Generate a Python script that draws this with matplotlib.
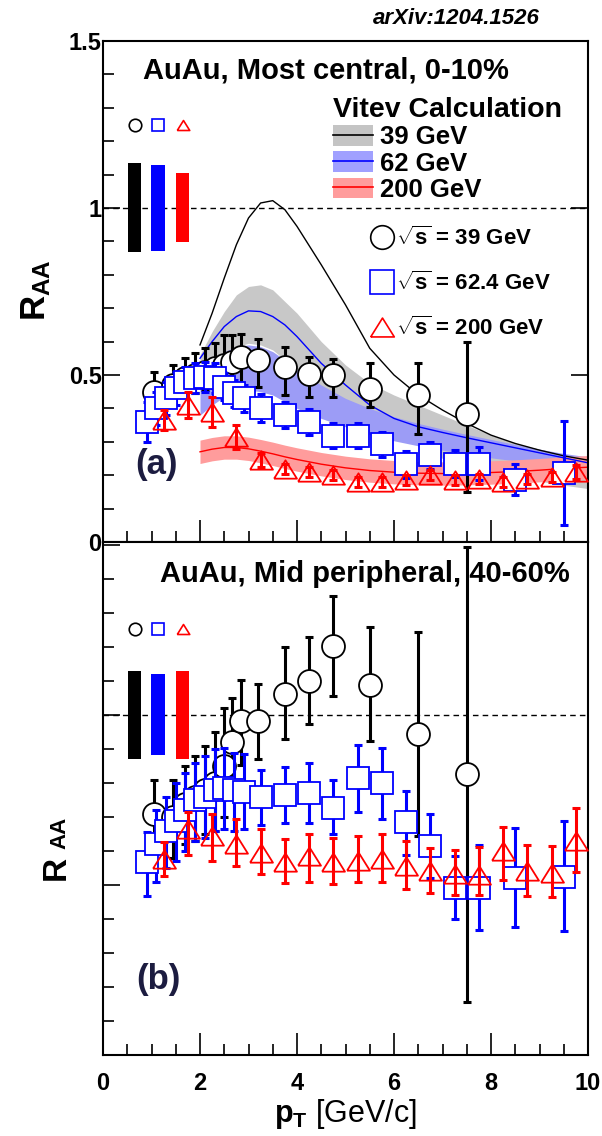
import matplotlib
matplotlib.use('Agg')
import matplotlib.pyplot as plt
from matplotlib.patches import Patch
from matplotlib.lines import Line2D
from matplotlib.ticker import MultipleLocator

plt.rcParams['font.family'] = ['Liberation Sans', 'DejaVu Sans']
plt.rcParams['font.weight'] = 'bold'
plt.rcParams['mathtext.fontset'] = 'custom'
plt.rcParams['mathtext.rm'] = 'Liberation Sans:bold'
plt.rcParams['mathtext.it'] = 'Liberation Sans:bold'
plt.rcParams['mathtext.bf'] = 'Liberation Sans:bold'

# --- Vitev calculation (central panel only) ---
calc_pt = [2.0, 2.25, 2.5, 2.75, 3.0, 3.25, 3.5, 3.75, 4.0, 4.5, 5.0, 5.5,
           6.0, 6.5, 7.0, 7.5, 8.0, 8.5, 9.0, 9.5, 10.0]
calc39 = [0.59, 0.685, 0.79, 0.89, 0.97, 1.015, 1.022, 0.995, 0.945, 0.83, 0.71, 0.58,
          0.50, 0.44, 0.395, 0.355, 0.32, 0.295, 0.275, 0.258, 0.245]
calc39_hi = [0.56, 0.63, 0.69, 0.74, 0.765, 0.77, 0.755, 0.72, 0.685, 0.60, 0.53, 0.475,
             0.44, 0.41, 0.38, 0.35, 0.32, 0.295, 0.278, 0.262, 0.25]
calc39_lo = [0.48, 0.53, 0.565, 0.585, 0.595, 0.59, 0.575, 0.545, 0.51, 0.45, 0.40, 0.36,
             0.33, 0.30, 0.25, 0.228, 0.212, 0.197, 0.182, 0.17, 0.16]
calc62 = [0.55, 0.60, 0.645, 0.675, 0.692, 0.69, 0.675, 0.65, 0.615, 0.535, 0.47, 0.41,
          0.37, 0.345, 0.328, 0.312, 0.297, 0.282, 0.267, 0.252, 0.237]
calc62_hi = [0.50, 0.54, 0.57, 0.585, 0.59, 0.585, 0.57, 0.545, 0.515, 0.47, 0.43, 0.40,
             0.375, 0.355, 0.338, 0.322, 0.307, 0.292, 0.278, 0.265, 0.255]
calc62_lo = [0.38, 0.41, 0.435, 0.45, 0.455, 0.45, 0.44, 0.42, 0.40, 0.37, 0.345, 0.322,
             0.303, 0.288, 0.275, 0.263, 0.252, 0.243, 0.235, 0.228, 0.222]
calc200 = [0.27, 0.278, 0.283, 0.283, 0.279, 0.272, 0.264, 0.255, 0.247, 0.233, 0.222, 0.214,
           0.209, 0.206, 0.205, 0.206, 0.208, 0.211, 0.215, 0.22, 0.224]
calc200_hi = [0.305, 0.313, 0.318, 0.318, 0.314, 0.307, 0.299, 0.29, 0.282, 0.268, 0.257, 0.249,
              0.244, 0.241, 0.24, 0.241, 0.243, 0.246, 0.25, 0.255, 0.259]
calc200_lo = [0.235, 0.243, 0.248, 0.248, 0.244, 0.237, 0.229, 0.22, 0.212, 0.198, 0.187, 0.179,
              0.174, 0.171, 0.17, 0.171, 0.173, 0.176, 0.18, 0.185, 0.189]

# --- sqrt(s) = 39 GeV ---
pt39 = [1.05, 1.45, 1.7, 1.9, 2.1, 2.3, 2.5, 2.65, 2.85, 3.2, 3.75, 4.25, 4.75, 5.5, 6.5, 7.5]
raa39_c = [0.45, 0.47, 0.49, 0.50, 0.51, 0.52, 0.53, 0.54, 0.554, 0.544, 0.524, 0.504, 0.499,
           0.459, 0.439, 0.384]
up39_c = [0.06, 0.06, 0.06, 0.065, 0.07, 0.075, 0.09, 0.08, 0.07, 0.065, 0.06, 0.05, 0.05,
          0.076, 0.096, 0.216]
dn39_c = [0.05, 0.05, 0.05, 0.055, 0.055, 0.06, 0.06, 0.07, 0.08, 0.08, 0.085, 0.07, 0.065,
          0.055, 0.115, 0.234]
raa39_p = [0.71, 0.70, 0.74, 0.76, 0.78, 0.80, 0.85, 0.92, 0.983, 0.983, 1.062, 1.10, 1.204,
           1.09, 0.944, 0.826]
up39_p = [0.10, 0.11, 0.11, 0.12, 0.13, 0.15, 0.17, 0.13, 0.12, 0.11, 0.14, 0.13, 0.146,
          0.17, 0.30, 0.67]
dn39_p = [0.11, 0.12, 0.12, 0.13, 0.13, 0.14, 0.15, 0.14, 0.13, 0.113, 0.132, 0.126, 0.147,
          0.166, 0.30, 0.67]

# --- sqrt(s) = 62.4 GeV ---
pt62 = [0.9, 1.1, 1.3, 1.5, 1.7, 1.9, 2.1, 2.3, 2.5, 2.7, 2.9, 3.25, 3.75, 4.25, 4.75,
        5.25, 5.75, 6.25, 6.75, 7.25, 7.75, 8.5, 9.5]
raa62_c = [0.36, 0.40, 0.43, 0.46, 0.48, 0.49, 0.495, 0.49, 0.465, 0.445, 0.43, 0.40, 0.38,
           0.359, 0.318, 0.318, 0.292, 0.233, 0.26, 0.235, 0.235, 0.187, 0.207]
err62_c = [0.06, 0.05, 0.05, 0.05, 0.045, 0.045, 0.045, 0.045, 0.04, 0.04, 0.04, 0.042, 0.04,
           0.04, 0.038, 0.038, 0.038, 0.04, 0.04, 0.04, 0.048, 0.046, 0.155]
raa62_p = [0.567, 0.62, 0.66, 0.69, 0.72, 0.75, 0.76, 0.78, 0.785, 0.78, 0.775, 0.758, 0.765,
           0.77, 0.726, 0.814, 0.80, 0.686, 0.614, 0.493, 0.493, 0.52, 0.525]
up62_p = [0.09, 0.10, 0.10, 0.11, 0.11, 0.11, 0.12, 0.12, 0.12, 0.11, 0.11, 0.08, 0.082,
          0.089, 0.084, 0.098, 0.105, 0.091, 0.095, 0.093, 0.125, 0.147, 0.164]
dn62_p = [0.10, 0.11, 0.11, 0.12, 0.12, 0.12, 0.12, 0.12, 0.12, 0.12, 0.11, 0.08, 0.083,
          0.088, 0.076, 0.10, 0.106, 0.096, 0.094, 0.093, 0.125, 0.142, 0.16]

# --- sqrt(s) = 200 GeV ---
pt200 = [1.25, 1.75, 2.25, 2.75, 3.25, 3.75, 4.25, 4.75, 5.25, 5.75, 6.25, 6.75, 7.25,
         7.75, 8.25, 8.75, 9.25, 9.75]
raa200_c = [0.364, 0.41, 0.389, 0.314, 0.245, 0.22, 0.21, 0.2, 0.18, 0.18, 0.185, 0.2, 0.185,
            0.19, 0.18, 0.19, 0.195, 0.21]
err200_c = [0.03, 0.04, 0.045, 0.037, 0.02, 0.015, 0.015, 0.015, 0.015, 0.015, 0.015, 0.015,
            0.015, 0.015, 0.015, 0.015, 0.015, 0.02]
raa200_p = [0.576, 0.665, 0.645, 0.62, 0.596, 0.568, 0.586, 0.567, 0.571, 0.576, 0.557, 0.542,
            0.532, 0.53, 0.60, 0.542, 0.537, 0.63]
up200_p = [0.05, 0.05, 0.064, 0.074, 0.069, 0.067, 0.064, 0.073, 0.074, 0.074, 0.073, 0.066,
           0.071, 0.081, 0.072, 0.076, 0.077, 0.096]
dn200_p = [0.05, 0.075, 0.074, 0.063, 0.064, 0.062, 0.076, 0.064, 0.063, 0.068, 0.067, 0.064,
           0.062, 0.06, 0.084, 0.074, 0.073, 0.091]

# normalisation uncertainty boxes near R_AA = 1
norm_x = [0.65, 1.13, 1.64]
norm_lo_c = [0.867, 0.871, 0.898]
norm_hi_c = [1.135, 1.130, 1.105]
norm_lo_p = [0.871, 0.882, 0.870]
norm_hi_p = [1.130, 1.120, 1.130]
norm_sym_y = [1.25, 1.255]

colors = ['black', '#0000ff', '#ff0000']
markers = ['o', 's', [(-1, -0.8), (1, -0.8), (0, 0.8), (-1, -0.8)]]
faces = ['white', 'white', 'none']

fig = plt.figure(figsize=(6.02, 11.36), dpi=100)
ax1 = fig.add_axes([103 / 602, 1 - 542 / 1136, 485 / 602, 501 / 1136])
ax2 = fig.add_axes([103 / 602, 1 - 1055 / 1136, 485 / 602, 513 / 1136])

# bands + curves
ax1.fill_between(calc_pt, calc39_lo, calc39_hi, color='#c8c8c8', lw=0, zorder=1)
ax1.fill_between(calc_pt, calc62_lo, calc62_hi, color='#9c9cf6', lw=0, zorder=1.1)
ax1.fill_between(calc_pt, calc200_lo, calc200_hi, color='#ff9c9c', lw=0, zorder=1.2)
ax1.plot(calc_pt, calc39, color='black', lw=1.0, zorder=1.5)
ax1.plot(calc_pt, calc62, color='#0000ff', lw=1.0, zorder=1.5)
ax1.plot(calc_pt, calc200, color='#ff0000', lw=1.0, zorder=1.5)

series_c = [(pt39, raa39_c, [dn39_c, up39_c]),
            (pt62, raa62_c, [err62_c, err62_c]),
            (pt200, raa200_c, [err200_c, err200_c])]
series_p = [(pt39, raa39_p, [dn39_p, up39_p]),
            (pt62, raa62_p, [dn62_p, up62_p]),
            (pt200, raa200_p, [dn200_p, up200_p])]

for ax, series, nlo, nhi, sy in [(ax1, series_c, norm_lo_c, norm_hi_c, norm_sym_y[0]),
                                 (ax2, series_p, norm_lo_p, norm_hi_p, norm_sym_y[1])]:
    ax.axhline(1.0, color='black', lw=1.0, ls=(0, (4, 3)), zorder=1)
    for i, (x, y, err) in enumerate(series):
        ax.errorbar(x, y, yerr=err, fmt='none', ecolor=colors[i], elinewidth=2.2,
                    capsize=3, capthick=2.2, zorder=3 + i)
        ax.plot(x, y, ls='none', marker=markers[i], ms=16.5, mfc=faces[i],
                mec=colors[i], mew=1.3, zorder=3.5 + i)
    ax.bar(norm_x, [h - l for h, l in zip(nhi, nlo)], bottom=nlo, width=0.28,
           color=colors, zorder=2)
    for i in range(3):
        ax.plot(norm_x[i], sy, ls='none', marker=markers[i], ms=9, mfc='white',
                mec=colors[i], mew=1.2, zorder=2)

for ax in (ax1, ax2):
    ax.set_xlim(0, 10)
    ax.xaxis.set_major_locator(MultipleLocator(2))
    ax.xaxis.set_minor_locator(MultipleLocator(0.5))
    ax.yaxis.set_major_locator(MultipleLocator(0.5))
    ax.yaxis.set_minor_locator(MultipleLocator(0.1))
    ax.tick_params(which='both', direction='in', width=1.2)
    ax.tick_params(which='major', length=16)
    ax.tick_params(which='minor', length=8)
    ax.tick_params(axis='y', which='major', length=12)
    for s in ax.spines.values():
        s.set_linewidth(1.5)

ax1.set_ylim(0, 1.5)
ax2.set_ylim(0, 1.51)
ax1.tick_params(axis='y', right=True, labelsize=17, pad=1)
ax1.tick_params(axis='x', labelbottom=False)
ax2.tick_params(axis='y', labelleft=False)
ax2.tick_params(axis='x', labelsize=17, pad=12)
ax1.set_yticks([0, 0.5, 1, 1.5], ['0', '0.5', '1', '1.5'])

ax2.set_xlabel(r'$\mathbf{p_T}$ [GeV/c]', fontsize=22, labelpad=2)

# legends
vitev = [(Patch(fc='#c4c4c4', ec='none'), Line2D([], [], color='black', lw=1.2)),
         (Patch(fc='#a0a0ff', ec='none'), Line2D([], [], color='#0000ff', lw=1.2)),
         (Patch(fc='#ff9c9c', ec='none'), Line2D([], [], color='#ff0000', lw=1.2))]
leg1 = ax1.legend(vitev, ['39 GeV', '62 GeV', '200 GeV'], title='Vitev Calculation',
                  loc='upper left', bbox_to_anchor=(0.474, 0.888), frameon=False,
                  fontsize=18.5, title_fontsize=20.5, handlelength=1.55, handleheight=0.85,
                  handletextpad=0.3, labelspacing=0.08, borderpad=0, borderaxespad=0)
leg1._legend_box.align = 'left'
ax1.add_artist(leg1)

sym = [Line2D([], [], ls='none', marker=markers[i], ms=17, mfc='white', mec=colors[i], mew=1.2)
       for i in range(3)]
ax1.legend(sym, [r'$\sqrt{s}$ = 39 GeV', r'$\sqrt{s}$ = 62.4 GeV', r'$\sqrt{s}$ = 200 GeV'],
           loc='upper left', bbox_to_anchor=(0.553, 0.63), frameon=False, fontsize=16,
           handlelength=1.0, handletextpad=0.1, labelspacing=0.98, borderpad=0,
           borderaxespad=0)

ax1.text(0.082, 0.925, 'AuAu, Most central, 0-10%', transform=ax1.transAxes,
         fontsize=21, va='baseline')
ax2.text(0.118, 0.9226, 'AuAu, Mid peripheral, 40-60%', transform=ax2.transAxes,
         fontsize=21, va='baseline')
ax1.text(0.066, 0.135, '(a)', transform=ax1.transAxes, fontsize=25, va='baseline',
         color='#1c1c40')
ax2.text(0.068, 0.129, '(b)', transform=ax2.transAxes, fontsize=25, va='baseline',
         color='#1c1c40')

fig.text(0.06, 1 - 290 / 1136, r'R$_{\mathbf{AA}}$', rotation=90, fontsize=25,
         ha='center', va='center')
fig.text(65 / 602, 1 - 880 / 1136, 'R', rotation=90, fontsize=24,
         rotation_mode='anchor', ha='left', va='baseline')
fig.text(65 / 602, 1 - 849 / 1136, 'AA', rotation=90, fontsize=16,
         rotation_mode='anchor', ha='left', va='baseline')
fig.text(456 / 602, 1 - 18 / 1136, 'arXiv:1204.1526', fontsize=16, style='italic',
         ha='center', va='center')

fig.savefig('out.png', dpi=100)
